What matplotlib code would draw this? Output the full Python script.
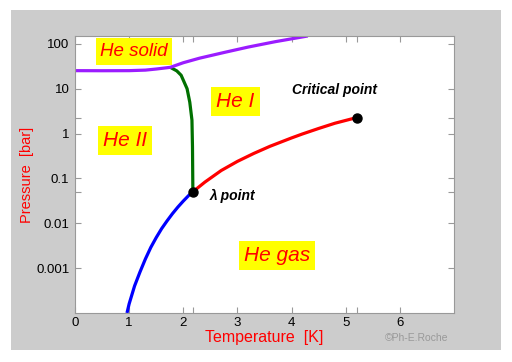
import matplotlib
import matplotlib.pyplot as plt
from matplotlib.patches import Rectangle

matplotlib.use("Agg")

plt.rcParams["font.family"] = ["Liberation Sans", "DejaVu Sans"]

# saturated vapour pressure, below lambda point (He II / gas)
svp_low_t = [0.96, 1.0, 1.1, 1.2, 1.3, 1.4, 1.5, 1.6, 1.7, 1.8, 1.9, 2.0, 2.1, 2.177]
svp_low_p = [1.0e-4, 1.6e-4, 4.0e-4, 8.2e-4, 1.6e-3, 2.9e-3, 4.8e-3, 7.6e-3,
             1.13e-2, 1.64e-2, 2.30e-2, 3.13e-2, 4.17e-2, 5.04e-2]

# saturated vapour pressure, lambda point to critical point (He I / gas)
svp_high_t = [2.177, 2.4, 2.7, 3.0, 3.3, 3.6, 4.0, 4.2, 4.5, 4.8, 5.2]
svp_high_p = [0.0504, 0.083, 0.15, 0.24, 0.36, 0.52, 0.80, 0.98, 1.30, 1.70, 2.27]

# lambda line
lam_t = [2.177, 2.17, 2.16, 2.12, 2.07, 1.96, 1.88, 1.76]
lam_p = [0.0504, 0.5, 2.0, 5.0, 10.0, 20.0, 25.0, 30.0]

# melting curve
melt_t = [0.0, 0.5, 1.0, 1.3, 1.5, 1.76, 2.0, 2.3, 2.77, 3.2, 3.7, 4.3]
melt_p = [25.3, 25.2, 25.3, 26.0, 27.5, 30.0, 38.0, 48.0, 65.0, 85.0, 112.0, 150.0]

lambda_point = (2.177, 0.0504)
critical_point = (5.2, 2.27)

x_ticks = [0, 1, 2, 3, 4, 5, 6]
y_ticks = [1e-3, 1e-2, 1e-1, 1, 10, 100]
y_tick_labels = ["0.001", "0.01", "0.1", "1", "10", "100"]

phase_labels = ["He solid", "He I", "He II", "He gas"]
phase_pos = [(1.09, 68), (2.96, 5.2), (0.92, 0.7), (3.73, 1.9e-3)]
phase_size = [13.5, 15, 15, 15]

fig = plt.figure(figsize=(5.12, 3.62), dpi=100)
fig.patches.append(Rectangle((0.0215, 0.0331), 0.957, 0.9393, transform=fig.transFigure,
                             facecolor="#cccccc", edgecolor="none", zorder=-1))

ax = fig.add_axes([0.1465, 0.1354, 0.7402, 0.7652])
ax.set_yscale("log")
ax.set_xlim(0, 7)
ax.set_ylim(1e-4, 150)

ax.plot(svp_low_t, svp_low_p, color="#0000ff", lw=2.3, solid_capstyle="butt")
ax.plot(svp_high_t, svp_high_p, color="#ff0000", lw=2.3, solid_capstyle="butt")
ax.plot(lam_t, lam_p, color="#007000", lw=2.3, solid_capstyle="butt")
ax.plot(melt_t, melt_p, color="#9b1cff", lw=2.3, solid_capstyle="butt")
ax.plot(*lambda_point, "o", color="black", ms=6.5, zorder=5)
ax.plot(*critical_point, "o", color="black", ms=6.5, zorder=5)

for label, (tx, ty), fs in zip(phase_labels, phase_pos, phase_size):
    box = dict(boxstyle="square,pad=0.25", facecolor="#ffff00", edgecolor="none")
    ax.text(tx, ty, label, color="#ff0000", fontsize=fs, style="italic",
            ha="center", va="center", bbox=box)

ax.text(4.8, 9.6, "Critical point", fontsize=10, style="italic", weight="bold",
        ha="center", va="center")
ax.text(2.49, 0.041, "λ point", fontsize=10, style="italic", weight="bold",
        ha="left", va="center")

ax.set_xticks(x_ticks + [2.177, 5.2])
ax.set_xticklabels([str(t) for t in x_ticks] + ["", ""])
ax.set_yticks(y_ticks + [0.0504, 2.27])
ax.set_yticklabels(y_tick_labels + ["", ""])
ax.minorticks_off()
ax.tick_params(which="both", direction="in", top=True, right=True, length=4,
               color="#999999", labelsize=9.5)
ax.tick_params(axis="x", pad=3)
ax.tick_params(axis="y", pad=4)
for s in ax.spines.values():
    s.set_color("#999999")

ax.set_xlabel("Temperature  [K]", color="#ff0000", fontsize=11.5, va="center")
ax.xaxis.set_label_coords(0.5, -0.09)
ax.set_ylabel("Pressure  [bar]", color="#ff0000", fontsize=10.5, va="center")
ax.yaxis.set_label_coords(-0.127, 0.5)

fig.text(0.813, 0.066, "©Ph-E.Roche", color="#999999", fontsize=7.5, ha="center", va="center")

fig.savefig("out.png", dpi=100)
